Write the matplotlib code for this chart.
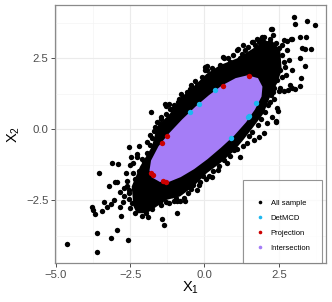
import matplotlib
matplotlib.use("Agg")
import matplotlib.pyplot as plt
from matplotlib.lines import Line2D

plt.rcParams['font.family'] = ['Liberation Sans', 'DejaVu Sans']
plt.rcParams['mathtext.fontset'] = 'custom'
plt.rcParams['mathtext.rm'] = 'Liberation Sans'
plt.rcParams['mathtext.it'] = 'Liberation Sans'

# ---- data ----
# individually visible "All sample" points
black_x = [-4.61, -3.62, -3.61, -3.16, -2.94, -2.58, -2.80, -3.77, -3.75, -3.70, -3.45, -3.29, -3.14, -3.37,
           -3.05, -3.21, -3.54, -3.12, -2.92, -3.01, -2.71, -2.83, -1.91, -2.65, -2.50, -2.54, -2.19, -1.43,
           -1.35, -0.92, -0.65, -0.93, -2.28, -2.95, -2.48, -2.27, -2.39, -2.62, -2.70, -2.23, -2.05, -1.65,
           -1.50, -1.30, -1.03, -0.81, -1.98, -2.55, -2.85, -2.60, -2.45, -2.75, -2.30, -2.40, -2.10, -1.95,
           -1.85,
           -1.81, -1.32, -1.18, -1.04, -0.87, -1.65, -1.49, -1.31, -1.15, -0.73, -0.59, -0.37, -0.31, -0.15,
           -0.01, 0.08, 0.01, 0.30, 0.53, 0.62, 0.86, 1.11, 1.25, 1.37, 1.50, 1.59, 1.76, 1.93, 2.23, 2.32,
           1.14, 0.64, 0.08, 0.02, -0.45, -0.90, -1.45, -1.70,
           3.00, 3.06, 3.46, 3.73, 2.26, 2.00, 1.90, 1.84, 2.00, 2.21, 1.62, 2.66, 2.79, 2.94, 3.22, 3.41,
           3.29, 3.37, 3.58, 3.22, 3.39, 3.25, 3.20, 2.93, 2.82, 2.55, 2.32, 2.92, 2.77, 2.60, 2.85, 2.70,
           2.75, 2.95, 3.05, 2.88,
           2.40, 2.46, 2.50, 2.69, 2.44, 2.39, 2.27, 2.10, 1.99, 1.82, 1.65, 1.43, 1.20, 0.98, 0.67, 0.47,
           0.25, 2.20, 2.35, -0.15, -0.26, -0.57, -0.40, 0.05, -1.10,
           # ragged edge of the solid mass
           -2.35, -2.20, -2.05, -1.95, -1.85, -1.75, -1.60, -1.45, -1.30, -1.10, -0.95, -0.80, -0.62, -0.50,
           -0.25, -0.10, 0.20, 0.25, 0.40, 0.70, 0.80, 0.95, 1.00, 1.20, 1.30, 1.45, 1.70, 1.80, 2.05, 2.40,
           2.50,
           2.62, 2.68, 2.55, 2.62, 2.45, 2.35, 2.25, 2.15, 2.05, 1.90, 1.80, 1.60, 1.50, 1.30, 1.10, 0.85,
           0.75, 0.50, 0.30, 0.15, -0.05, -0.20, -0.45, -0.70, -0.95, -1.20, -1.45, -1.75, -2.10, -2.35,
           -2.50, -2.55, -2.55]
black_y = [-4.02, -4.31, -3.66, -3.81, -3.54, -3.88, -3.04, -2.73, -2.83, -2.98, -2.87, -2.73, -2.61, -2.54,
           -2.50, -1.99, -1.52, -1.17, -1.23, -1.85, -2.05, -2.74, -3.08, -1.54, -1.25, -0.61, -0.58, -3.16,
           -3.36, -2.94, -2.52, -2.52, -0.96, -1.84, -0.96, -0.88, -1.54, -2.01, -2.36, -2.81, -2.85, -2.46,
           -2.55, -2.55, -2.51, -2.51, -2.95, -2.25, -2.20, -1.80, -2.60, -2.55, -2.40, -1.20, -1.05, -0.45,
           -0.20,
           0.61, 0.89, 0.89, 0.85, 1.05, 0.09, 0.19, 0.82, 0.70, 1.15, 1.32, 1.47, 1.71, 1.60,
           1.73, 2.08, 2.20, 1.95, 2.26, 2.55, 2.37, 2.78, 2.65, 2.78, 2.55, 3.08, 3.16, 3.25, 3.54, 3.31,
           2.82, 2.51, 2.21, 2.08, 1.55, 0.95, 0.45, -0.05,
           3.95, 3.72, 3.82, 3.68, 3.51, 3.24, 3.19, 3.07, 3.07, 3.19, 3.07, 3.13, 3.10, 3.19, 3.25, 3.23,
           2.86, 2.84, 2.84, 2.49, 2.22, 1.81, 1.53, 1.44, 1.39, 1.44, 1.32, 3.16, 2.78, 2.95, 2.45, 2.20,
           1.90, 2.10, 1.40, 1.55,
           0.27, 0.65, 1.35, 1.34, 0.74, 0.29, 0.44, 0.21, -0.14, -0.26, -0.38, -0.49, -0.96, -0.73, -1.08, -1.43,
           -1.68, 0.95, 1.05, -1.84, -2.13, -2.25, -1.95, -1.75, -2.30,
           -1.75, -1.45, -1.15, -0.85, -0.55, -0.30, 0.25, 0.35, 0.55, 0.72, 0.80, 1.25, 1.10, 1.40,
           1.55, 1.85, 1.90, 2.15, 2.05, 2.20, 2.50, 2.60, 2.35, 2.50, 2.95, 2.90, 2.95, 2.80, 3.00, 3.05,
           2.85,
           2.60, 2.35, 2.10, 1.85, 1.75, 1.45, 1.20, 0.85, 0.60, 0.35, 0.15, -0.10, -0.25, -0.60, -0.70, -0.95,
           -1.20, -1.30, -1.45, -1.65, -1.65, -1.95, -2.10, -2.40, -2.40, -2.60, -2.65, -2.80, -3.05, -2.95,
           -2.75, -2.45, -2.15]

# outline of the region where "All sample" points overlap into a solid mass
dense_x = [-2.39, -2.45, -2.17, -1.77, -1.60, -1.16, -0.76, -0.37, 0.08, 0.53, 1.09, 1.54, 1.99, 2.27,
           2.55, 2.60, 2.44, 2.21, 1.99, 1.65, 1.31, 0.98, 0.53, 0.08, -0.37, -0.82, -1.27, -1.60, -1.94, -2.28]
dense_y = [-2.71, -2.01, -1.31, -0.61, 0.09, 0.56, 1.15, 1.50, 1.96, 2.26, 2.49, 2.78, 3.08, 3.13,
           2.78, 2.08, 1.61, 1.15, 0.56, 0.09, -0.37, -0.78, -1.19, -1.54, -2.01, -2.36, -2.48, -2.71, -2.95, -2.95]

# outline of the solid "Intersection" mass
inter_x = [1.80, 1.95, 1.92, 1.70, 1.40, 1.00, 0.55, 0.10, -0.35, -0.80, -1.20, -1.50, -1.75, -1.85,
           -1.80, -1.55, -1.20, -0.75, -0.30, 0.15, 0.60, 1.05, 1.45]
inter_y = [1.80, 1.50, 1.15, 0.70, 0.25, -0.22, -0.65, -1.05, -1.40, -1.68, -1.85, -1.85, -1.70, -1.45,
           -1.10, -0.60, -0.15, 0.35, 0.80, 1.20, 1.55, 1.80, 1.90]

detmcd_x = [-0.20, -0.50, 0.37, 1.73, 1.50, 1.46, 0.88]
detmcd_y = [0.90, 0.62, 1.39, 0.93, 0.47, 0.42, -0.31]

proj_x = [0.62, 1.50, -1.25, -1.43, -1.80, -1.72, -1.38, -1.30]
proj_y = [1.54, 1.88, -0.24, -0.47, -1.52, -1.62, -1.82, -1.85]

legend_labels = ["All sample", "DetMCD", "Projection", "Intersection"]
colors = ["#000000", "#1EB8F0", "#CC0000", "#A57DF7"]

x_ticks = [-5.0, -2.5, 0.0, 2.5]
y_ticks = [-2.5, 0.0, 2.5]

# ---- figure ----
fig = plt.figure(figsize=(3.32, 3.02), dpi=100)
ax = fig.add_axes([0.1657, 0.1291, 0.8163, 0.8543])

ax.set_xlim(-5.03, 4.09)
ax.set_ylim(-4.70, 4.37)

ax.set_xticks(x_ticks)
ax.set_yticks(y_ticks)
ax.set_xticklabels([f"{v:.1f}".replace("-", "\u2212") for v in x_ticks])
ax.set_yticklabels([f"{v:.1f}".replace("-", "\u2212") for v in y_ticks])
ax.set_xticks([-3.75, -1.25, 1.25, 3.75], minor=True)
ax.set_yticks([-3.75, -1.25, 1.25, 3.75], minor=True)
ax.grid(True, which='major', color='#EBEBEB', lw=0.8, zorder=0)
ax.grid(True, which='minor', color='#F4F4F4', lw=0.5, zorder=0)
ax.set_axisbelow(True)
ax.tick_params(which='major', length=2.75, width=0.6, color='#333333', pad=2.0,
               labelsize=8.2, labelcolor='#4D4D4D')
ax.tick_params(which='minor', length=0)
for s in ax.spines.values():
    s.set_color('#8A8A8A')
    s.set_linewidth(0.9)

ms = 15
ax.fill(dense_x, dense_y, color=colors[0], lw=0, zorder=2)
ax.scatter(black_x, black_y, s=ms, color=colors[0], lw=0, zorder=3)
ax.fill(inter_x, inter_y, color=colors[3], lw=0, zorder=4)
ax.scatter(detmcd_x, detmcd_y, s=ms, color=colors[1], lw=0, zorder=5)
ax.scatter(proj_x, proj_y, s=ms, color=colors[2], lw=0, zorder=5)

ax.set_xlabel(r"$\mathregular{X_1}$", fontsize=10.5, labelpad=0.0)
ax.set_ylabel(r"$\mathregular{X_2}$", fontsize=10.5, labelpad=3)

handles = [Line2D([], [], ls='none', marker='o', markersize=2.6, markerfacecolor=c,
                  markeredgecolor='none') for c in colors]
leg = ax.legend(handles, legend_labels, loc='lower right', bbox_to_anchor=(0.985, 0.0),
                fontsize=5.5, frameon=True, fancybox=False, borderpad=1.5, labelspacing=0.98,
                handlelength=1.44, handletextpad=0.72, borderaxespad=0.0,
                title=' ', title_fontsize=1.0)
leg.get_frame().set_edgecolor('#7A7A7A')
leg.get_frame().set_linewidth(0.8)
leg.set_zorder(10)

fig.savefig("out.png", dpi=100)
